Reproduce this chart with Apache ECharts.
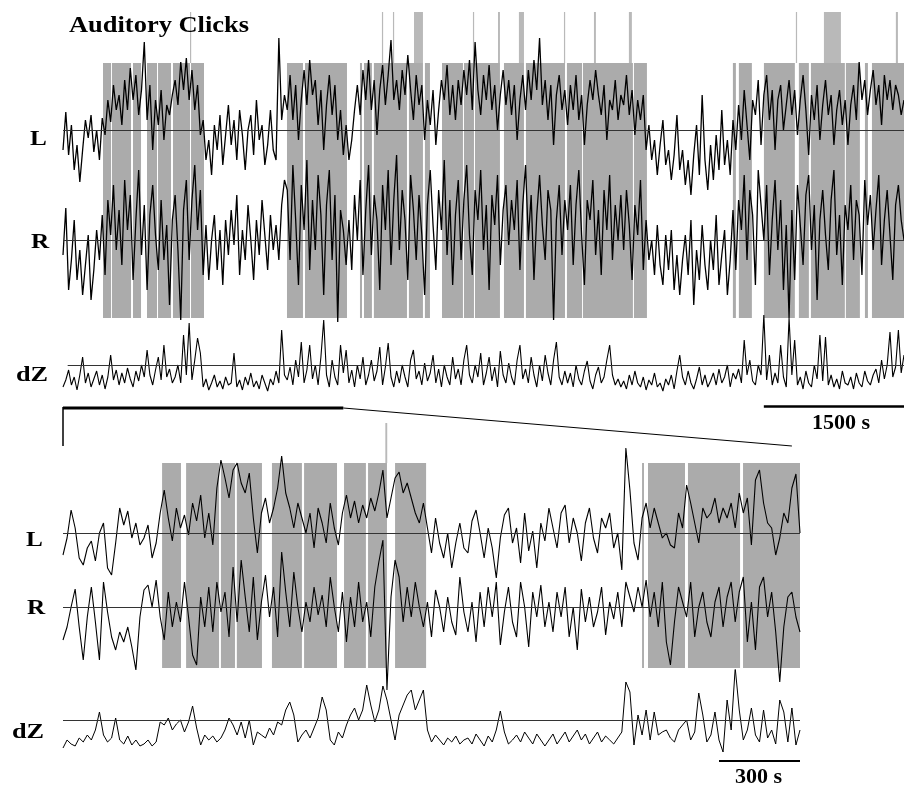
<!DOCTYPE html>
<html>
<head>
<meta charset="utf-8">
<title>Auditory Clicks</title>
<script src="https://cdn.jsdelivr.net/npm/echarts@6/dist/echarts.min.js"></script>
<style>
  html, body { margin: 0; padding: 0; background: #fff; }
  #chart { width: 904px; height: 787px; }
</style>
</head>
<body>
<div id="chart"></div>
<script>
// time step of the traces (s)
var topStep = 30;
var bottomStep = 15;

// stimulus blocks (grey bands) and click markers, in seconds
var topBands = [
  [428, 514], [524, 728], [749, 835], [899, 1006], [1017, 1156], [1177, 1359], [1370, 1509],
  [2397, 2568], [2590, 3039],
  [3178, 3200], [3221, 3306], [3327, 3681], [3702, 3852], [3873, 3927],
  [4056, 4280], [4291, 4398], [4409, 4676], [4719, 4933], [4954, 5372], [5393, 5554],
  [5564, 6099], [6110, 6249],
  [7169, 7201], [7233, 7372], [7501, 7832], [7875, 7982], [8004, 8367], [8378, 8528],
  [8582, 8614], [8657, 9000]
];
var topClicks = [
  [1359, 1370], [3413, 3424], [3531, 3542], [3756, 3852], [4387, 4398], [4655, 4676],
  [4879, 4933], [5361, 5372], [5682, 5703], [6056, 6088], [7843, 7854], [8143, 8325],
  [8913, 8935]
];
var bottomBands = [
  [367, 437], [456, 578], [585, 637], [644, 737], [774, 885], [893, 1015],
  [1041, 1122], [1130, 1200], [1230, 1345],
  [2145, 2152], [2167, 2304], [2315, 2508], [2519, 2730]
];
var bottomClicks = [[1194, 1201]];

// overview traces, 0 - 9000 s
var topL = [
  -20, 18, -25, 5, -40, -15, -52, -20, 10, -8, 15, -22, 0, -30, 12, -5, 30, 8, 45, 20,
  35, 5, 50, 20, 62, 30, 55, 15, 40, 88, 10, 45, -20, 30, 5, 40, -10, 25, 15, 35,
  50, 25, 68, 40, 72, 30, 60, 20, 45, -5, 10, -30, -10, -45, 5, -20, 15, -35, -5, 25,
  -15, 10, -30, 20, -5, -40, 0, 15, -25, 30, -10, 5, -35, -15, 20, -20, -30, 92, 10, 35,
  20, 55, 10, 45, -10, 30, 60, 25, 70, 35, 50, 5, 40, -20, 25, 55, 15, 45, -10, 20,
  -25, 5, -30, -10, 20, 45, 15, 60, 30, 70, 20, 50, -5, 40, 65, 25, 55, 90, 30, 50,
  20, 60, 35, 75, 40, 10, 55, 25, 45, -10, 30, 5, 40, -15, 20, 50, 30, 65, 15, 45,
  10, 50, 25, 60, 35, 70, 20, 88, 40, 15, 55, 30, 65, 20, 45, 0, 35, 60, 25, 50,
  15, 45, -10, 30, 55, 20, 60, 30, 70, 40, 92, 25, 50, 10, 45, -15, 35, 55, 20, 40,
  5, 45, 20, 55, 10, 35, -15, 25, 50, 30, 60, 35, 15, 45, -10, 30, 20, 50, 10, 35,
  25, 55, 15, 40, -5, 30, 10, 35, -20, 5, -30, -10, -45, -15, 10, -35, -20, -50, -25, 15,
  -40, -20, -55, -30, -65, -25, 5, -45, 35, -30, -60, -15, -50, -5, -40, 20, -35, -10, -45, 10,
  -20, 25, -10, 40, 5, -30, 30, 15, 50, -15, 35, 55, 10, 40, -20, 30, 45, 0, 25, 50,
  15, 40, -5, 30, 55, 20, -25, 35, 10, 45, -10, 25, 50, 15, 35, -15, 20, 40, 5, 30,
  -15, 25, 45, 10, 68, 30, 50, 15, 40, 60, 25, 45, 5, 55, 30, 50, 20, 45, 35, 15,
  30
];
var topR = [
  -15, 32, -50, -20, 20, -40, -10, -55, -25, 5, -60, -30, 10, -20, 25, -35, 40, 5, 55, -10,
  30, -25, 60, 10, 45, -40, 20, 70, -15, 35, -50, 25, 55, 5, -30, 40, -20, 15, -65, 20,
  45, -10, -80, 30, 60, -20, 40, 75, 10, 50, -35, 15, -40, 0, 25, -30, 10, -45, 20, -15,
  30, -5, 45, -35, 10, -20, 35, 0, -40, 20, -15, 40, 5, -30, 25, -10, 15, -20, 35, 60,
  50, -20, 75, 20, -45, 55, 10, 80, -30, 40, -10, 65, 25, -55, 35, 70, -20, 45, -82, 30,
  10, -25, 20, -30, 45, 0, 60, -35, 30, 75, -15, 45, 20, -50, 55, 10, 70, -25, 40, 85,
  -10, 50, 20, -40, 65, 30, -20, 45, 5, -55, 35, 70, 15, -30, 50, 10, 80, -15, 40, -45,
  25, 60, -20, 40, 75, 5, -35, 50, 20, 70, -10, 35, -50, 45, 15, 65, -25, 30, 55, -5,
  40, 10, 60, -30, 35, 75, 0, 45, -40, 25, 65, 15, -20, 50, 30, -80, 20, 55, -15, 40,
  10, 55, -25, 35, 70, 5, -45, 40, 20, 60, -15, 30, -35, 50, 10, 65, -20, 35, 0, 45,
  -10, 50, 15, -40, 35, 5, 60, -30, 20, -20, 0, -35, 15, -25, -45, 5, -30, 10, -50, -15,
  -55, -20, 5, -35, 20, -65, -10, -40, 15, -25, -50, 0, -30, 25, -45, -15, 10, -55, -20, 30,
  -30, 40, 10, 65, -20, 50, 25, -45, 70, 35, 0, 55, -35, 20, 60, -10, 40, -50, 15, -78,
  30, -40, 55, 15, -25, 45, 65, -10, 35, -60, 20, 50, 5, -30, 40, 70, -15, 25, -45, 35,
  10, 55, -20, 40, 25, -35, 60, 15, 45, -10, 30, 65, -25, 20, 50, 5, -40, 35, 55, 20,
  0
];
var topDZ = [
  -22, -15, -5, -20, -12, -25, -10, 8, -18, -8, -22, -14, -6, -20, -10, -24, -12, 10, -15, -5,
  -20, -8, -18, -3, -14, -22, -6, -16, 0, -12, 15, -10, -20, -5, 8, -15, 20, -12, -4, -18,
  -12, 0, -18, 30, -10, 42, -15, 5, 27, 12, -22, -14, -25, -18, -10, -22, -16, -24, -12, -20,
  -18, 12, -22, -15, -25, -12, -20, -8, -22, -16, -24, -10, -18, -26, -14, -20, -6, -18, 35, -10,
  -15, -2, -20, 5, -12, 23, -18, -5, 20, -14, 0, -20, 8, 45, -10, -22, 5, -12, -20, 20,
  -8, 15, -18, -5, -22, 0, -14, 8, -20, -10, 5, -16, -6, 18, -20, -2, 22, -12, -22, -6,
  -18, 0, -12, -22, 5, 15, -14, -6, -20, 2, -16, -8, 10, -18, -4, -22, 0, -12, -20, 8,
  -14, -4, -20, 5, 20, -10, -18, 0, -12, 12, -20, -8, 8, -16, -2, -22, 14, -10, -18, 2,
  -12, -20, 5, 20, -14, -4, -18, 8, -10, -22, 0, -16, 10, -8, -20, 5, 23, -12, -20, -6,
  -18, -8, -22, 0, -14, -20, -6, 4, -16, -24, -10, -2, -18, -12, 5, 20, -10, -20, -14, -22,
  -16, -24, -10, -20, -6, -18, -22, -12, -25, -15, -20, -8, -22, -18, -26, -14, -20, -10, -24, -6,
  10, -12, -20, -6, -18, -24, -14, -2, -20, -10, -22, -16, -8, -20, -4, -18, -12, 0, -22, -8,
  -14, -4, -18, 25, -10, 5, -16, -20, 0, -10, 50, -15, 10, -20, -8, -18, 20, -12, -22, 47,
  -10, 25, -20, -12, -24, -6, -18, -22, 0, -14, 30, -16, 28, -20, -10, -22, -14, -24, -6, -18,
  -20, -12, -24, -8, -18, -22, -6, -16, -20, -10, -4, -18, 5, -14, 0, 33, -12, -2, 35, -8,
  10
];

// expanded traces, 0 - 2730 s
var bottomL = [
  -22, -5, 23, 5, -25, -32, -15, -8, -28, 0, 10, -35, -42, -10, 25, 8, 22, -5, 10, -12,
  -5, 8, -25, -10, 20, 43, 15, -8, 25, 5, 18, -2, 30, 12, 38, -5, 20, -12, 45, 73,
  55, 35, 63, 70, 50, 40, 60, 15, -20, 20, 35, 10, 25, 45, 77, 40, 25, 5, 30, 15,
  0, 20, -15, 25, 10, -10, 30, 5, -12, 20, 38, 15, 32, 10, 28, 15, 35, 22, 40, 63,
  15, 35, 55, 61, 40, 50, 35, 20, 10, 30, 5, -20, 15, -10, -25, 0, -35, -10, 10, -15,
  -20, 12, 23, 0, -25, 5, -15, -45, -5, 18, 25, -10, 5, -30, 20, -18, 2, -35, 10, -8,
  25, 5, -15, 20, 28, -10, 15, 0, -28, 10, 25, -5, -20, 15, 5, 20, -15, 0, -37, 85,
  43, -10, -27, 15, 30, 5, 25, 10, -5, 0, -12, -15, 20, 5, 48, 30, 10, -10, 25, 15,
  20, 35, 10, 25, 15, 30, 5, 40, 20, 35, -12, 53, 63, 30, 10, 5, -22, -5, 20, 10,
  45, 59, 0
];
var bottomR = [
  -33, -20, 0, 18, -20, -53, -10, 20, -15, -53, 25, -5, -30, -43, -25, -35, -20, -40, -63, -10,
  17, 22, 0, 27, -10, -33, 15, -20, 5, -15, 25, -10, -48, -58, 10, -20, 20, -25, 25, -5,
  15, -30, 40, -15, 47, 10, -25, 30, -33, 5, 32, -10, 20, -30, 55, 15, -20, 35, 0, -25,
  5, -15, 20, -8, 12, -20, 30, 0, -25, 15, -35, 10, -20, 25, -15, 5, -30, 20, 45, 67,
  -83, 10, 47, 30, -15, 20, -10, 25, 0, -20, 5, -30, 17, 0, -25, 10, -15, -28, 30, -5,
  -25, 5, -35, 15, -20, 20, -10, 25, -38, -5, 20, -15, -30, 25, 0, -40, 15, -10, 22, -20,
  5, -25, 15, -10, 20, -30, 0, -43, 18, -15, 10, -20, -5, 20, -28, 5, -12, 15, -20, 25,
  10, -5, 20, 0, 27, -10, 15, -20, 25, -35, -58, -15, 20, 5, -10, 25, -30, 0, 15, -15,
  -30, 5, 20, -20, 10, 25, -15, 15, 30, -35, 5, -43, 20, 30, -10, 15, -25, -75, -20, 10,
  15, -10, -25
];
var bottomDZ = [
  -28, -20, -24, -26, -18, -22, -15, -20, -10, 8, -15, -22, -18, 2, -20, -24, -16, -25, -20, -26,
  -24, -20, -26, -22, -2, -5, 2, -10, -4, 0, -12, -2, 14, -8, -25, -15, -20, -16, -22, -18,
  -10, 2, -5, -15, -2, -18, 0, -25, -12, -15, -18, -8, -15, -2, -5, 10, 18, 5, -22, -15,
  -10, -18, -8, 2, 23, 10, -20, -25, -12, -18, -5, 5, 12, 0, 10, 35, 15, -2, 10, 34,
  20, 0, -20, 5, 15, 25, 30, 10, 20, 30, -10, -22, -15, -20, -25, -18, -22, -16, -24, -20,
  -18, -24, -14, -20, -26, -16, -22, -10, 9, -12, -24, -20, -15, -22, -12, -18, -24, -14, -20, -26,
  -20, -14, -24, -18, -12, -22, -16, -10, -20, -14, -24, -18, -12, -22, -16, -20, -24, -18, -12, 38,
  28, -25, 5, -15, 10, -20, 8, -15, -12, -10, -18, -22, -10, -5, 0, -20, -12, 27, 5, -22,
  -15, 8, -20, -32, 20, -10, 52, 10, -20, -10, 12, -15, -22, 10, -18, -10, -24, 20, 8, -22,
  12, -25, -10
];

var TOP_MAX = 9000;
var BOTTOM_MAX = 2730;
var BAND_GREY = '#ababab';
var CLICK_GREY = '#b9b9b9';
var SERIF = '"Liberation Serif", "DejaVu Serif", serif';

function toPairs(values, step) {
  return values.map(function (v, i) {
    return [i * step, v];
  });
}

function blocks(list, y0, y1) {
  return list.map(function (b) {
    return [b[0], b[1], y0, y1];
  });
}

function renderBlock(params, api) {
  var p0 = api.coord([api.value(0), api.value(3)]);
  var p1 = api.coord([api.value(1), api.value(2)]);
  return {
    type: 'rect',
    shape: {
      x: p0[0],
      y: p0[1],
      width: Math.max(p1[0] - p0[0], 1.2),
      height: p1[1] - p0[1],
    },
    style: { fill: api.visual('color') },
  };
}

function blockSeries(idx, data, color) {
  return {
    type: 'custom',
    xAxisIndex: idx,
    yAxisIndex: idx,
    renderItem: renderBlock,
    encode: { x: [0, 1], y: [2, 3] },
    itemStyle: { color: color },
    data: data,
    z: 1,
    silent: true,
  };
}

function traceSeries(idx, values, step, width, lineFrom) {
  return {
    type: 'line',
    xAxisIndex: idx,
    yAxisIndex: idx,
    data: toPairs(values, step),
    showSymbol: false,
    symbol: 'none',
    lineStyle: { color: '#000', width: width },
    z: 3,
    silent: true,
    markLine: {
      silent: true,
      symbol: 'none',
      label: { show: false },
      lineStyle: { color: '#333', width: 1.2, type: 'solid' },
      data: [[{ coord: [lineFrom, 0] }, { coord: [idx < 4 ? TOP_MAX : BOTTOM_MAX, 0] }]],
    },
  };
}

// one grid per layer, all axes hidden
var grids = [
  { left: 63, top: 12, width: 841, height: 306 },  // top bands
  { left: 63, top: 30, width: 841, height: 200 },  // top L
  { left: 63, top: 140, width: 841, height: 200 }, // top R
  { left: 63, top: 315, width: 841, height: 100 }, // top dZ
  { left: 63, top: 422, width: 737, height: 246 }, // bottom bands
  { left: 63, top: 433, width: 737, height: 200 }, // bottom L
  { left: 63, top: 507, width: 737, height: 200 }, // bottom R
  { left: 63, top: 670, width: 737, height: 100 }, // bottom dZ
];
var yRanges = [[0, 1.2], [-100, 100], [-100, 100], [-50, 50], [0, 1.2], [-100, 100], [-100, 100], [-50, 50]];

var chart = echarts.init(document.getElementById('chart'));

chart.setOption({
  animation: false,
  backgroundColor: '#fff',
  grid: grids,
  xAxis: grids.map(function (g, i) {
    return { type: 'value', gridIndex: i, min: 0, max: i < 4 ? TOP_MAX : BOTTOM_MAX, show: false };
  }),
  yAxis: grids.map(function (g, i) {
    return { type: 'value', gridIndex: i, min: yRanges[i][0], max: yRanges[i][1], show: false };
  }),
  series: [
    blockSeries(0, blocks(topBands, 0, 1), BAND_GREY),
    blockSeries(0, blocks(topClicks, 1, 1.2), CLICK_GREY),
    traceSeries(1, topL, topStep, 1.3, 0),
    traceSeries(2, topR, topStep, 1.3, 0),
    traceSeries(3, topDZ, topStep, 1.1, 50),
    blockSeries(4, blocks(bottomBands, 0, 1), BAND_GREY),
    blockSeries(4, blocks(bottomClicks, 1, 1.195), CLICK_GREY),
    traceSeries(5, bottomL, bottomStep, 1.1, 0),
    traceSeries(6, bottomR, bottomStep, 1.1, 0),
    traceSeries(7, bottomDZ, bottomStep, 1, 0),
  ],
});

// annotations: labels, zoom bracket, scale bars
function xTop(t) { return chart.convertToPixel({ xAxisIndex: 0 }, t); }
function xBot(t) { return chart.convertToPixel({ xAxisIndex: 4 }, t); }

function label(text, x, y, size, sx) {
  return {
    type: 'text',
    x: x,
    y: y,
    scaleX: sx || 1,
    style: {
      text: text,
      x: 0,
      y: 0,
      fill: '#000',
      font: 'bold ' + size + 'px ' + SERIF,
      verticalAlign: 'middle',
    },
    z: 10,
  };
}

function seg(x1, y1, x2, y2, w) {
  return {
    type: 'line',
    shape: { x1: x1, y1: y1, x2: x2, y2: y2 },
    style: { stroke: '#000', lineWidth: w },
    z: 10,
  };
}

chart.setOption({
  graphic: [
    label('Auditory Clicks', 69, 26, 23, 1.15),
    label('L', 30, 140, 21, 1.2),
    label('R', 31, 243, 21, 1.2),
    label('dZ', 16, 376, 21, 1.25),
    label('L', 26, 541, 21, 1.2),
    label('R', 27, 609, 21, 1.2),
    label('dZ', 12, 733, 21, 1.25),
    label('1500 s', 812, 424, 21, 1.05),
    label('300 s', 735, 778, 21, 1.05),
    seg(xTop(0), 408, xTop(3000), 408, 3),
    seg(xTop(0), 407, xTop(0), 446, 1.5),
    seg(xTop(3000), 408, xBot(2700), 446, 1),
    seg(xTop(TOP_MAX - 1500), 406.5, xTop(TOP_MAX), 406.5, 2.5),
    seg(xBot(BOTTOM_MAX - 300), 761, xBot(BOTTOM_MAX), 761, 2),
  ],
});
</script>
</body>
</html>
